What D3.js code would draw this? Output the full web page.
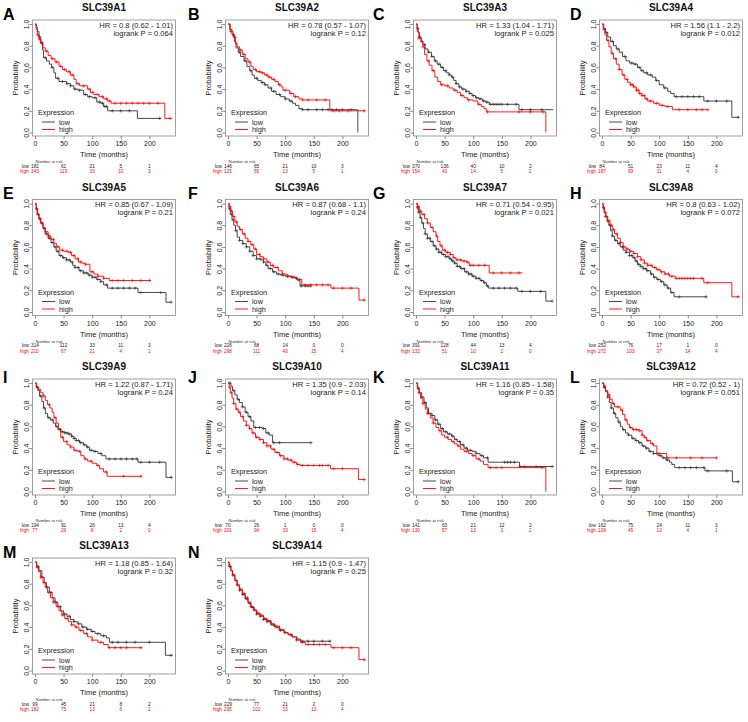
<!DOCTYPE html>
<html><head><meta charset="utf-8">
<script src="https://cdn.jsdelivr.net/npm/d3@7"></script>
<style>body{margin:0;background:#fff}svg{display:block;font-family:"Liberation Sans",Arial,sans-serif}</style>
</head><body><svg id="c" width="748" height="722"></svg>
<script>
const letters = ["A","B","C","D","E","F","G","H","I","J","K","L","M","N"];
const genes = ["SLC39A1","SLC39A2","SLC39A3","SLC39A4","SLC39A5","SLC39A6","SLC39A7","SLC39A8","SLC39A9","SLC39A10","SLC39A11","SLC39A12","SLC39A13","SLC39A14"];
const hrLabels = ["HR = 0.8 (0.62 - 1.01)","HR = 0.78 (0.57 - 1.07)","HR = 1.33 (1.04 - 1.71)","HR = 1.56 (1.1 - 2.2)","HR = 0.85 (0.67 - 1.09)","HR = 0.87 (0.68 - 1.1)","HR = 0.71 (0.54 - 0.95)","HR = 0.8 (0.63 - 1.02)","HR = 1.22 (0.87 - 1.71)","HR = 1.35 (0.9 - 2.03)","HR = 1.16 (0.85 - 1.58)","HR = 0.72 (0.52 - 1)","HR = 1.18 (0.85 - 1.64)","HR = 1.15 (0.9 - 1.47)"];
const pLabels = ["logrank P = 0.064","logrank P = 0.12","logrank P = 0.025","logrank P = 0.012","logrank P = 0.21","logrank P = 0.24","logrank P = 0.021","logrank P = 0.072","logrank P = 0.24","logrank P = 0.14","logrank P = 0.35","logrank P = 0.051","logrank P = 0.32","logrank P = 0.25"];
const riskTimes = [0,50,100,150,200];
const riskLow = [[181,61,21,5,1],[146,65,21,10,3],[370,136,40,10,2],[84,51,23,11,4],[314,112,33,11,3],[226,68,14,0,0],[391,128,44,13,4],[252,76,17,1,0],[194,91,26,13,4],[70,26,1,0,0],[141,63,21,12,2],[162,75,24,11,3],[99,45,21,8,2],[229,77,21,2,0]];
const riskHigh = [[343,119,33,10,3],[125,55,13,5,1],[154,43,14,5,2],[187,69,11,4,0],[210,67,21,4,1],[298,111,40,15,4],[133,51,10,2,0],[272,103,37,14,4],[77,29,8,2,0],[201,94,33,15,4],[130,57,13,3,2],[109,45,10,4,1],[182,75,13,6,2],[295,102,33,13,4]];
const xTicks = [0,50,100,150,200];
const yTicks = [0,0.2,0.4,0.6,0.8,1.0];

// survival curves: [time (months), survival probability from that time on]
const lowA = [[0,1],[2,0.97],[4,0.93],[7,0.88],[10,0.83],[13,0.76],[15,0.69],[20,0.66],[25,0.63],[29,0.6],[33,0.55],[36,0.5],[42,0.47],[55,0.45],[62,0.43],[68,0.4],[75,0.39],[85,0.35],[92,0.33],[100,0.32],[108,0.28],[115,0.27],[120,0.24],[127,0.2],[179,0.13],[220,0.13]];
const highA = [[0,1],[2,0.95],[4,0.9],[7,0.86],[10,0.82],[14,0.78],[18,0.75],[23,0.71],[28,0.68],[35,0.65],[42,0.61],[48,0.58],[55,0.56],[62,0.53],[68,0.49],[72,0.45],[78,0.43],[92,0.4],[97,0.37],[103,0.35],[112,0.33],[120,0.31],[127,0.29],[133,0.27],[227,0.13],[240,0.13]];
const lowB = [[0,1],[3,0.95],[7,0.9],[11,0.84],[14,0.78],[18,0.74],[22,0.7],[28,0.66],[33,0.61],[38,0.57],[42,0.53],[46,0.5],[52,0.48],[58,0.46],[64,0.44],[70,0.41],[76,0.38],[84,0.35],[92,0.33],[100,0.31],[107,0.29],[113,0.27],[118,0.25],[124,0.22],[130,0.21],[227,0]];
const highB = [[0,1],[4,0.93],[9,0.88],[13,0.82],[16,0.79],[20,0.76],[25,0.72],[30,0.68],[35,0.65],[40,0.61],[44,0.58],[50,0.56],[58,0.55],[64,0.53],[70,0.51],[76,0.49],[82,0.47],[88,0.44],[93,0.42],[96,0.39],[108,0.36],[115,0.33],[124,0.31],[130,0.3],[178,0.2],[240,0.2]];
const lowC = [[0,1],[2,0.96],[4,0.92],[6,0.88],[9,0.84],[12,0.81],[16,0.77],[21,0.74],[27,0.7],[32,0.66],[37,0.63],[43,0.6],[48,0.57],[53,0.55],[58,0.53],[62,0.51],[66,0.48],[70,0.45],[75,0.42],[80,0.4],[87,0.38],[93,0.36],[98,0.34],[104,0.32],[110,0.31],[116,0.29],[122,0.28],[128,0.26],[180,0.21],[240,0.21]];
const highC = [[0,1],[2,0.93],[5,0.87],[9,0.84],[12,0.79],[15,0.72],[19,0.66],[23,0.62],[28,0.57],[33,0.51],[38,0.47],[43,0.44],[50,0.43],[58,0.41],[65,0.39],[72,0.37],[78,0.34],[84,0.32],[90,0.3],[100,0.29],[108,0.26],[114,0.24],[119,0.22],[123,0.19],[227,0]];
const lowD = [[0,1],[3,0.96],[6,0.92],[10,0.88],[15,0.84],[20,0.8],[25,0.77],[30,0.74],[36,0.7],[42,0.66],[48,0.64],[55,0.63],[62,0.6],[68,0.57],[73,0.55],[80,0.53],[88,0.51],[94,0.48],[100,0.44],[108,0.41],[115,0.38],[120,0.36],[126,0.33],[178,0.29],[227,0.14],[240,0.14]];
const highD = [[0,1],[2,0.95],[5,0.9],[8,0.85],[12,0.79],[16,0.73],[20,0.68],[25,0.63],[30,0.58],[35,0.53],[40,0.49],[45,0.46],[50,0.44],[55,0.42],[60,0.39],[65,0.36],[70,0.34],[75,0.31],[80,0.29],[90,0.27],[100,0.25],[110,0.24],[123,0.21],[185,0.21]];
const lowE = [[0,1],[2,0.95],[4,0.9],[7,0.86],[10,0.82],[14,0.77],[18,0.72],[23,0.68],[28,0.64],[33,0.6],[37,0.56],[42,0.52],[48,0.5],[55,0.48],[62,0.46],[66,0.43],[70,0.41],[77,0.38],[85,0.36],[93,0.34],[100,0.32],[108,0.3],[115,0.28],[120,0.25],[127,0.22],[180,0.18],[229,0.09],[238,0.09]];
const highE = [[0,1],[2,0.95],[4,0.9],[7,0.86],[10,0.82],[14,0.78],[18,0.74],[23,0.7],[28,0.67],[33,0.63],[38,0.6],[43,0.57],[50,0.56],[58,0.55],[64,0.52],[70,0.49],[76,0.46],[82,0.45],[88,0.44],[96,0.37],[103,0.35],[110,0.33],[120,0.31],[130,0.29],[203,0.29]];
const lowF = [[0,1],[2,0.95],[4,0.9],[7,0.85],[10,0.8],[13,0.75],[16,0.69],[20,0.66],[26,0.63],[32,0.6],[38,0.56],[44,0.52],[50,0.49],[57,0.48],[62,0.46],[66,0.43],[70,0.4],[78,0.37],[85,0.35],[92,0.34],[100,0.33],[110,0.32],[118,0.31],[122,0.29],[126,0.24],[145,0.24]];
const highF = [[0,1],[2,0.97],[5,0.93],[8,0.88],[12,0.83],[16,0.79],[20,0.76],[25,0.72],[30,0.68],[35,0.65],[40,0.62],[45,0.58],[50,0.53],[56,0.51],[62,0.49],[68,0.46],[74,0.43],[80,0.41],[88,0.38],[95,0.35],[103,0.33],[112,0.32],[120,0.3],[129,0.25],[180,0.22],[229,0.11],[240,0.11]];
const lowG = [[0,1],[2,0.96],[4,0.92],[7,0.87],[10,0.82],[13,0.77],[16,0.72],[20,0.68],[25,0.65],[30,0.61],[35,0.58],[40,0.55],[45,0.53],[52,0.51],[58,0.49],[62,0.47],[67,0.45],[72,0.42],[78,0.4],[85,0.37],[92,0.35],[98,0.33],[105,0.31],[112,0.29],[118,0.27],[123,0.24],[127,0.22],[178,0.19],[227,0.1],[238,0.1]];
const highG = [[0,1],[3,0.97],[6,0.93],[10,0.9],[15,0.86],[20,0.82],[25,0.78],[30,0.74],[35,0.7],[38,0.65],[42,0.61],[46,0.57],[52,0.55],[60,0.53],[65,0.5],[70,0.48],[80,0.47],[88,0.46],[93,0.43],[128,0.36],[186,0.36]];
const lowH = [[0,1],[2,0.96],[4,0.92],[6,0.88],[9,0.84],[12,0.8],[15,0.75],[18,0.7],[22,0.66],[27,0.63],[32,0.6],[37,0.57],[42,0.55],[48,0.52],[54,0.5],[58,0.47],[62,0.44],[67,0.42],[72,0.4],[78,0.38],[85,0.35],[90,0.32],[96,0.3],[102,0.28],[108,0.25],[114,0.22],[120,0.18],[126,0.14],[183,0.14]];
const highH = [[0,1],[2,0.96],[4,0.92],[7,0.88],[10,0.84],[14,0.8],[18,0.76],[22,0.72],[27,0.68],[32,0.64],[37,0.6],[42,0.58],[48,0.56],[55,0.54],[62,0.51],[68,0.48],[74,0.45],[80,0.43],[88,0.41],[95,0.39],[102,0.37],[110,0.35],[118,0.33],[128,0.31],[178,0.27],[227,0.14],[240,0.14]];
const lowI = [[0,1],[2,0.96],[5,0.93],[8,0.88],[12,0.83],[15,0.77],[18,0.72],[22,0.68],[27,0.66],[32,0.63],[36,0.6],[40,0.57],[45,0.55],[52,0.54],[58,0.53],[64,0.51],[68,0.49],[72,0.47],[78,0.45],[85,0.43],[90,0.41],[95,0.38],[102,0.37],[110,0.35],[117,0.33],[124,0.3],[180,0.27],[229,0.13],[240,0.13]];
const highI = [[0,1],[3,0.96],[6,0.94],[10,0.91],[14,0.88],[18,0.84],[22,0.8],[26,0.77],[30,0.73],[33,0.68],[37,0.63],[41,0.58],[45,0.5],[50,0.46],[56,0.43],[62,0.41],[68,0.38],[74,0.37],[80,0.33],[86,0.3],[92,0.28],[100,0.26],[108,0.24],[113,0.21],[120,0.18],[126,0.14],[187,0.14]];
const lowJ = [[0,1],[5,0.97],[8,0.93],[12,0.89],[16,0.85],[20,0.82],[25,0.78],[30,0.73],[35,0.69],[40,0.65],[45,0.59],[60,0.58],[66,0.54],[72,0.52],[78,0.45],[145,0.45]];
const highJ = [[0,1],[2,0.96],[4,0.91],[7,0.86],[10,0.81],[14,0.76],[18,0.73],[22,0.69],[27,0.65],[32,0.61],[37,0.58],[42,0.54],[48,0.5],[55,0.48],[62,0.45],[68,0.42],[75,0.39],[82,0.36],[90,0.33],[98,0.3],[105,0.29],[112,0.27],[120,0.25],[126,0.24],[179,0.21],[228,0.11],[240,0.11]];
const lowK = [[0,1],[3,0.95],[6,0.91],[10,0.87],[14,0.82],[18,0.77],[22,0.72],[28,0.7],[33,0.66],[38,0.62],[43,0.58],[48,0.55],[55,0.53],[62,0.51],[67,0.48],[72,0.46],[78,0.43],[84,0.4],[90,0.38],[98,0.37],[105,0.35],[112,0.33],[118,0.31],[126,0.27],[181,0.23],[240,0.23]];
const highK = [[0,1],[2,0.96],[5,0.91],[8,0.86],[12,0.81],[16,0.76],[20,0.72],[25,0.68],[30,0.63],[35,0.59],[40,0.56],[45,0.52],[50,0.5],[56,0.48],[62,0.46],[67,0.44],[72,0.42],[78,0.39],[84,0.37],[92,0.35],[98,0.33],[105,0.3],[112,0.28],[118,0.25],[126,0.22],[227,0]];
const lowL = [[0,1],[3,0.96],[6,0.92],[10,0.87],[13,0.82],[16,0.77],[20,0.72],[24,0.68],[28,0.64],[32,0.6],[36,0.57],[41,0.54],[46,0.52],[52,0.49],[58,0.47],[64,0.45],[70,0.42],[76,0.4],[82,0.37],[90,0.35],[98,0.33],[105,0.31],[112,0.29],[118,0.27],[122,0.25],[127,0.22],[180,0.19],[228,0.09],[240,0.09]];
const highL = [[0,1],[3,0.97],[6,0.93],[10,0.89],[14,0.85],[18,0.81],[22,0.78],[32,0.75],[36,0.71],[40,0.66],[44,0.62],[48,0.59],[53,0.57],[65,0.56],[70,0.52],[74,0.5],[78,0.47],[85,0.44],[90,0.42],[96,0.35],[113,0.31],[201,0.31]];
const lowM = [[0,1],[3,0.96],[7,0.92],[12,0.86],[16,0.81],[20,0.77],[25,0.72],[30,0.67],[35,0.63],[40,0.59],[45,0.55],[50,0.52],[56,0.5],[62,0.47],[68,0.45],[75,0.43],[82,0.4],[90,0.38],[98,0.36],[105,0.34],[115,0.32],[125,0.3],[130,0.26],[228,0.14],[240,0.14]];
const highM = [[0,1],[3,0.95],[6,0.91],[10,0.86],[14,0.81],[18,0.77],[22,0.72],[27,0.67],[32,0.63],[37,0.59],[42,0.55],[47,0.51],[52,0.48],[58,0.45],[64,0.42],[70,0.4],[77,0.37],[85,0.34],[92,0.31],[100,0.28],[110,0.26],[120,0.24],[128,0.21],[187,0.21]];
const lowN = [[0,1],[2,0.96],[5,0.92],[8,0.88],[12,0.83],[16,0.78],[20,0.74],[25,0.7],[30,0.66],[35,0.62],[40,0.58],[45,0.55],[50,0.52],[56,0.5],[62,0.47],[68,0.45],[75,0.42],[82,0.4],[90,0.37],[98,0.35],[105,0.33],[112,0.31],[120,0.29],[127,0.27],[180,0.27]];
const highN = [[0,1],[2,0.96],[5,0.92],[8,0.88],[12,0.83],[16,0.79],[20,0.75],[25,0.71],[30,0.67],[35,0.63],[40,0.59],[45,0.56],[50,0.53],[56,0.51],[62,0.48],[68,0.46],[75,0.43],[82,0.41],[90,0.38],[98,0.35],[105,0.33],[112,0.31],[120,0.28],[127,0.26],[135,0.24],[180,0.21],[229,0.1],[240,0.1]];

// censoring times (months)
const cenLowA = [8,12,18,30,40,48,56,62,70,78,88,95,105,113,118,122,125,135,150,165,218];
const cenHighA = [5,8,12,20,30,38,45,52,60,65,75,85,95,100,110,118,125,130,140,150,160,170,180,190,200,215,236];
const cenLowB = [10,20,30,40,50,60,65,75,80,90,100,110,130,140,155,165,175,182,190,200,215];
const cenHighB = [5,12,22,28,38,48,55,60,68,72,80,90,100,110,118,130,140,155,170,185,195,210,238];
const cenLowC = [3,6,10,15,22,28,34,40,46,52,58,64,70,76,82,88,94,100,106,112,118,124,130,135,140,145,150,160,175,185,200,220];
const cenHighC = [5,12,22,30,45,55,68,80,92,110,125,180,200,222];
const cenLowD = [8,18,28,40,52,58,65,70,78,85,95,110,130,140,150,160,170,185,200,218,238];
const cenHighD = [4,10,18,24,30,38,44,50,53,56,60,63,66,70,74,78,85,95,105,115,135,150,165,175,185];
const cenLowE = [3,5,8,12,16,20,25,30,35,40,45,50,55,60,65,70,75,80,85,90,95,100,105,110,115,125,135,145,155,165,175,185,220,238];
const cenHighE = [3,6,9,12,18,25,32,40,48,56,62,68,75,80,88,100,110,120,135,145,155,170,185,200];
const cenLowF = [3,6,9,14,20,26,32,38,44,50,56,62,68,74,80,88,96,104,112,120,128,135,140,145];
const cenHighF = [3,6,10,15,22,28,35,42,48,55,62,70,78,86,95,105,115,125,135,145,155,165,175,185,200,215,238];
const cenLowG = [3,5,8,12,16,20,24,28,32,36,40,44,48,52,56,60,64,68,72,76,80,84,88,92,96,100,105,110,115,120,125,135,145,155,165,175,185,200,218,238];
const cenHighG = [4,8,14,20,28,36,44,50,55,60,66,72,78,84,90,95,100,110,120,135,150,165,180];
const cenLowH = [3,6,10,14,18,24,30,36,42,48,52,56,60,64,68,72,76,80,86,92,98,104,110,116,122,135,182];
const cenHighH = [3,5,8,12,16,20,26,32,38,44,50,56,62,68,74,80,86,92,98,104,110,116,122,130,135,140,145,150,155,160,175,185,238];
const cenLowI = [4,10,16,24,30,38,44,48,52,56,60,64,68,72,76,80,86,92,98,105,115,130,140,150,160,170,178,185,200,218,238];
const cenHighI = [5,15,25,35,48,55,62,70,78,88,98,110,125,155,185];
const cenLowJ = [3,10,18,25,32,38,48,55,62,70,80,90,145];
const cenHighJ = [3,6,10,15,20,26,32,38,44,50,56,62,68,74,80,86,92,98,104,110,116,122,130,140,150,160,165,175,185,200,238];
const cenLowK = [4,10,16,22,28,34,40,46,52,58,64,70,76,82,88,95,105,115,125,155,160,165,172,182,190,210,238];
const cenHighK = [5,12,20,30,42,55,65,75,88,100,110,130,140,150,220];
const cenLowL = [4,10,16,22,30,38,46,54,60,66,72,78,84,90,96,102,108,114,135,145,155,165,178,185,218,238];
const cenHighL = [5,12,20,28,35,42,50,55,60,65,70,75,80,88,100,115,130,155,175,200];
const cenLowM = [5,12,20,28,36,44,52,60,68,76,84,92,100,110,120,135,145,160,175,200,238];
const cenHighM = [4,10,16,24,32,40,48,56,64,72,80,90,100,115,130,140,150,160,185];
const cenLowN = [3,8,14,20,26,32,38,44,50,56,62,68,74,80,86,92,100,110,120,130,140,150,165,178];
const cenHighN = [4,10,16,22,28,34,40,46,52,58,64,70,76,82,90,100,110,120,130,140,150,160,170,185,200,215,238];

const lowCurves = [lowA,lowB,lowC,lowD,lowE,lowF,lowG,lowH,lowI,lowJ,lowK,lowL,lowM,lowN];
const highCurves = [highA,highB,highC,highD,highE,highF,highG,highH,highI,highJ,highK,highL,highM,highN];
const lowCens = [cenLowA,cenLowB,cenLowC,cenLowD,cenLowE,cenLowF,cenLowG,cenLowH,cenLowI,cenLowJ,cenLowK,cenLowL,cenLowM,cenLowN];
const highCens = [cenHighA,cenHighB,cenHighC,cenHighD,cenHighE,cenHighF,cenHighG,cenHighH,cenHighI,cenHighJ,cenHighK,cenHighL,cenHighM,cenHighN];

// layout
const colX0 = [35,228,416,602];
const rowY1 = [24,203.5,383,562];
const letterX = [3,188,373,570];
const letterY = [20,199,383,558];
const PXM = 0.572, PXP = 108.5;
const LOWC = "#333333", HIGHC = "#ff0000", TXT = "#222";

const svg = d3.select("#c");

function survAt(curve, t){
  let s = curve[0][1];
  for (const p of curve){ if (p[0] <= t) s = p[1]; else break; }
  return s;
}

genes.forEach((gene,i)=>{
  const col = i%4, row = Math.floor(i/4);
  const x0 = colX0[col], y1 = rowY1[row];
  const x = d3.scaleLinear().domain([0,240]).range([x0, x0+240*PXM]);
  const y = d3.scaleLinear().domain([0,1]).range([y1+PXP, y1]);
  const g = svg.append("g");
  const bL = x0-2.5, bR = x0+140.5, bT = y1-4, bB = y1+112;

  g.append("text").attr("x",letterX[col]).attr("y",letterY[row]).attr("font-size",16).attr("font-weight","bold").attr("fill","#000").text(letters[i]);
  g.append("text").attr("x",(bL+bR)/2).attr("y",y1-13).attr("text-anchor","middle").attr("font-size",10).attr("font-weight","bold").attr("fill","#111").text(gene);

  g.append("rect").attr("x",bL).attr("y",bT).attr("width",bR-bL).attr("height",bB-bT).attr("fill","none").attr("stroke","#888").attr("stroke-width",0.8);

  const xa = g.append("g").attr("transform",`translate(0,${bB})`).call(d3.axisBottom(x).tickValues(xTicks).tickSize(3).tickPadding(1));
  xa.select(".domain").remove();
  xa.selectAll("line").attr("stroke","#888");
  xa.selectAll("text").attr("font-size",7).attr("fill",TXT).attr("font-family",null).attr("dy",null).attr("y",10);

  const ya = g.append("g").attr("transform",`translate(${bL},0)`).call(d3.axisLeft(y).tickValues(yTicks).tickSize(3).tickFormat(d3.format(".1f")));
  ya.select(".domain").remove();
  ya.selectAll("line").attr("stroke","#888");
  ya.selectAll("text").attr("font-size",7).attr("fill",TXT).attr("x",null).attr("dy",null).attr("text-anchor","middle").attr("transform","translate(-3.5,0) rotate(-90)");

  g.append("text").attr("transform",`translate(${x0-17},${(bT+bB)/2}) rotate(-90)`).attr("text-anchor","middle").attr("font-size",7.5).attr("fill",TXT).text("Probability");
  g.append("text").attr("x",(bL+bR)/2).attr("y",y1+133).attr("text-anchor","middle").attr("font-size",7.5).attr("fill",TXT).text("Time (months)");

  g.append("text").attr("x",x0+138).attr("y",y1+3.5).attr("text-anchor","end").attr("font-size",7.6).attr("fill",TXT).text(hrLabels[i]);
  g.append("text").attr("x",x0+138).attr("y",y1+11.5).attr("text-anchor","end").attr("font-size",7.6).attr("fill",TXT).text(pLabels[i]);

  const line = d3.line().x(d=>x(d[0])).y(d=>y(d[1])).curve(d3.curveStepAfter);
  const series = [[lowCurves[i],lowCens[i],LOWC],[highCurves[i],highCens[i],HIGHC]];
  series.forEach(([cv,cs,colr])=>{
    g.append("path").attr("d",line(cv)).attr("fill","none").attr("stroke",colr).attr("stroke-width",0.9);
    g.append("path").attr("d",cs.map(t=>{const px=x(t), py=y(survAt(cv,t)); return `M${px-1.7},${py}h3.4M${px},${py-1.7}v3.4`;}).join("")).attr("stroke",colr).attr("stroke-width",0.6).attr("fill","none");
  });

  // legend
  g.append("text").attr("x",x0+3).attr("y",y1+91).attr("font-size",7.3).attr("fill",TXT).text("Expression");
  [["low",LOWC,y1+98,y1+100.5],["high",HIGHC,y1+105.5,y1+108]].forEach(([lab,colr,ly,ty])=>{
    g.append("line").attr("x1",x0+7).attr("x2",x0+20).attr("y1",ly).attr("y2",ly).attr("stroke",colr).attr("stroke-width",0.9);
    g.append("text").attr("x",x0+24).attr("y",ty).attr("font-size",7.3).attr("fill",TXT).text(lab);
  });

  // number at risk
  g.append("text").attr("x",x0+14).attr("y",y1+139).attr("text-anchor","middle").attr("font-size",4.2).attr("fill","#333").text("Number at risk");
  [["low",riskLow[i],"#222",y1+143.8],["high",riskHigh[i],"#ff0000",y1+149]].forEach(([lab,vals,colr,ty])=>{
    g.append("text").attr("x",x0-6).attr("y",ty).attr("text-anchor","end").attr("font-size",4.8).attr("fill",colr).text(lab);
    vals.forEach((v,k)=>{
      g.append("text").attr("x",x(riskTimes[k])).attr("y",ty).attr("text-anchor","middle").attr("font-size",4.8).attr("fill",colr).text(v);
    });
  });
});
</script>
</body></html>
